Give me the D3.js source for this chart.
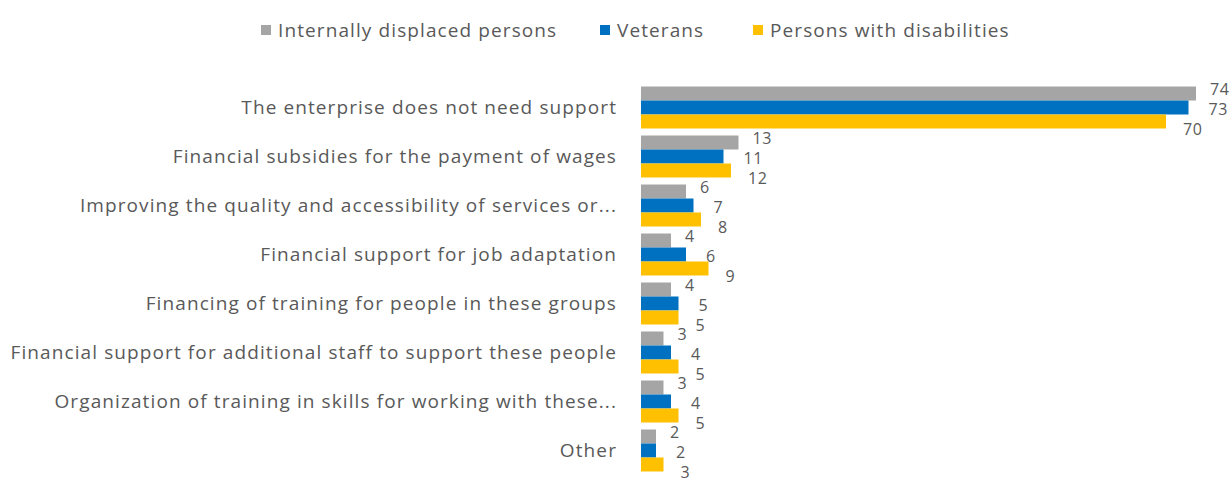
<!DOCTYPE html>
<html>
<head>
<meta charset="utf-8">
<script src="https://cdn.jsdelivr.net/npm/d3@7"></script>
<style>
  html, body { margin: 0; padding: 0; background: #ffffff; }
  svg text { font-family: "Open Sans", sans-serif; fill: #595959; letter-spacing: 1.1px; }
</style>
</head>
<body>
<svg id="chart" width="1229" height="484"></svg>
<script>
// Support measures requested by enterprises, by target group (%)
const categories = [
  "The enterprise does not need support",
  "Financial subsidies for the payment of wages",
  "Improving the quality and accessibility of services or...",
  "Financial support for job adaptation",
  "Financing of training for people in these groups",
  "Financial support for additional staff to support these people",
  "Organization of training in skills for working with these...",
  "Other"
];
const seriesNames = ["Internally displaced persons", "Veterans", "Persons with disabilities"];
const idpValues        = [74, 13, 6, 4, 4, 3, 3, 2];
const veteranValues    = [73, 11, 7, 6, 5, 4, 4, 2];
const disabilityValues = [70, 12, 8, 9, 5, 5, 5, 3];
const seriesColors = ["#a5a5a5", "#0070c0", "#ffc000"];

const seriesValues = [idpValues, veteranValues, disabilityValues];
const rows = categories.map((c, i) => ({
  category: c,
  values: seriesNames.map((s, k) => ({ series: s, key: k, value: seriesValues[k][i] }))
}));

const svg = d3.select("#chart");
const fontSize = 19;

const x = d3.scaleLinear().domain([0, 80]).range([641, 1241]);
const y = d3.scaleBand().domain(categories).range([83, 475])
  .paddingInner(0.143).paddingOuter(0.0715);
const ySub = d3.scaleBand().domain(d3.range(seriesNames.length)).range([0, y.bandwidth()]);

// category axis on the left, no line or ticks
const yAxis = d3.axisLeft(y).tickSize(0).tickPadding(24);
const gy = svg.append("g").attr("transform", `translate(${x(0)},0)`).call(yAxis);
gy.select(".domain").remove();
gy.selectAll("text")
  .style("font-family", "'Open Sans', sans-serif")
  .style("font-size", fontSize + "px")
  .attr("fill", "#595959");

// bars
const groups = svg.append("g").selectAll("g").data(rows).join("g")
  .attr("transform", d => `translate(0,${y(d.category)})`);

groups.selectAll("rect").data(d => d.values).join("rect")
  .attr("x", x(0))
  .attr("y", d => ySub(d.key))
  .attr("width", d => x(d.value) - x(0))
  .attr("height", ySub.bandwidth())
  .attr("fill", d => seriesColors[d.key]);

// value labels, nudged per series so they don't collide
const labelShift = [{ dx: 14, dy: -4 }, { dx: 20, dy: 2 }, { dx: 17, dy: 8 }];
groups.selectAll("text.value").data(d => d.values).join("text")
  .attr("class", "value")
  .attr("x", d => x(d.value) + labelShift[d.key].dx)
  .attr("y", d => ySub(d.key) + ySub.bandwidth() / 2 + labelShift[d.key].dy)
  .attr("dy", "0.35em")
  .style("font-size", "16px")
  .style("letter-spacing", "0.6px")
  .text(d => d.value);

// legend
const legendX = [261, 600, 753];
const legend = svg.append("g").selectAll("g").data(seriesNames).join("g")
  .attr("transform", (d, i) => `translate(${legendX[i]},30)`);
legend.append("rect").attr("x", 0).attr("y", -5).attr("width", 10).attr("height", 10)
  .attr("fill", (d, i) => seriesColors[i]);
legend.append("text").attr("x", 17).attr("dy", "0.35em")
  .style("font-size", fontSize + "px").text(d => d);
</script>
</body>
</html>
